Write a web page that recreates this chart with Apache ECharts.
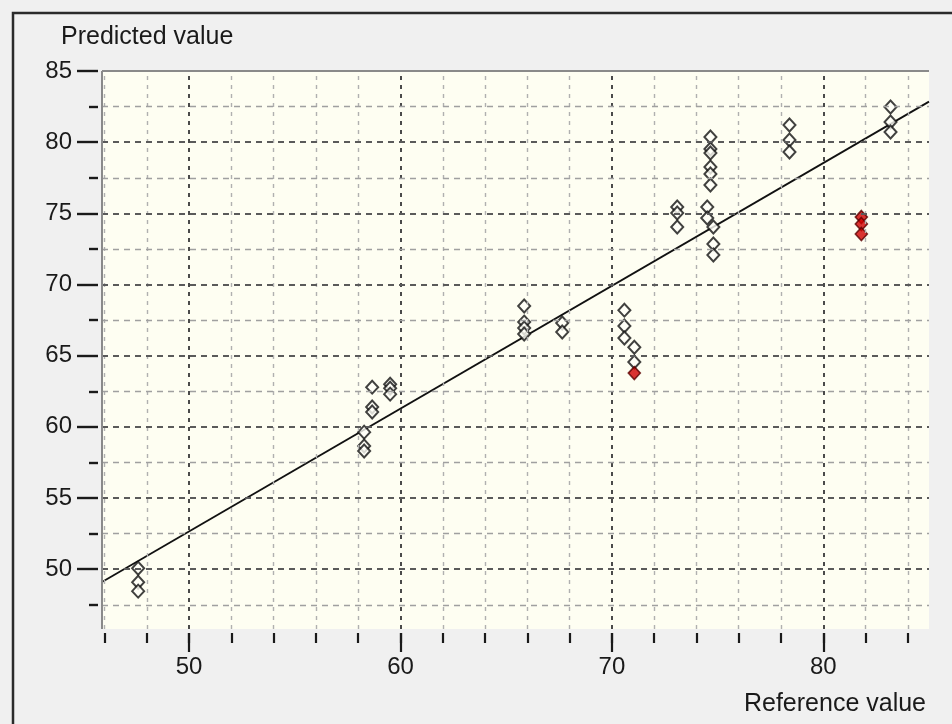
<!DOCTYPE html>
<html><head><meta charset="utf-8">
<script src="https://cdn.jsdelivr.net/npm/echarts@6/dist/echarts.min.js"></script>
<style>html,body{margin:0;padding:0;background:#f0f0f0}#c{width:952px;height:724px}</style>
</head><body><div id="c"></div>
<script>
// ---- data ----
const xMinorTicks = [46,48,50,52,54,56,58,60,62,64,66,68,70,72,74,76,78,80,82,84];
const xMajorTicks = [50,60,70,80];
const yMinorTicks = [47.5,52.5,57.5,62.5,67.5,72.5,77.5,82.5];
const yMajorTicks = [50,55,60,65,70,75,80,85];
const yGridLines = [47.5,50,52.5,55,57.5,60,62.5,65,67.5,70,72.5,75,77.5,80,82.5];

const openX = [47.59,47.59,47.59, 58.28,58.28,58.28, 58.66,58.66,58.66, 59.51,59.51,59.51,
  65.85,65.85,65.85,65.85, 67.65,67.65, 70.59,70.59,70.59, 71.06,71.06,
  73.09,73.09,73.09, 74.51,74.51, 74.66,74.66,74.66,74.66,74.66,74.66, 74.8,74.8,74.8,
  78.4,78.4,78.4, 83.18,83.18,83.18];
const openY = [50.07,49.09,48.46, 59.63,58.65,58.3, 62.79,61.39,61.04, 63.0,62.72,62.3,
  68.49,67.36,66.94,66.52, 67.29,66.66, 68.2,67.08,66.24, 65.6,64.55,
  75.44,75.02,74.04, 75.44,74.67, 80.36,79.52,79.24,78.25,77.76,76.99, 74.04,72.84,72.07,
  81.2,80.15,79.31, 82.47,81.42,80.71];
const redX = [71.06, 81.8,81.8,81.8];
const redY = [63.78, 74.74,74.25,73.55];
const fitX = [45.88, 85];
const fitY = [49.1, 82.85];

const xMin = 45.88, xMax = 85, yMin = 45.8, yMax = 85;

// ---- build ----
const zip = (a,b) => a.map((v,i)=>[v,b[i]]);
const FONT = '"Liberation Sans", Arial, sans-serif';
const gridLines = [];
xMinorTicks.forEach(v => gridLines.push({xAxis: v, lineStyle: {
  color: xMajorTicks.includes(v) ? '#4a4a4a' : '#b0b0b0', width: xMajorTicks.includes(v) ? 2 : 1.4, type: [4,5]}}));
yGridLines.forEach(v => gridLines.push({yAxis: v, lineStyle: {
  color: (v % 5 === 0) ? '#5a5a5a' : '#a0a0a0', width: (v % 5 === 0) ? 2 : 1.4, type: [6,5]}}));
// plot frame (top & left)
gridLines.push({yAxis: yMax, lineStyle: {color:'#8a8a8a', width:2, type:'solid'}});
gridLines.push({xAxis: xMin, lineStyle: {color:'#8a8a8a', width:2, type:'solid'}});

const xBase = {type:'value', min:xMin, max:xMax, position:'bottom', offset:4,
  axisLine:{show:false}, splitLine:{show:false}};
const yBase = {type:'value', min:yMin, max:yMax, position:'left', offset:4,
  axisLine:{show:false}, splitLine:{show:false}};

const option = {
  animation:false,
  backgroundColor:'#f0f0f0',
  grid:{left:102, top:71, right:23, bottom:95, show:true, backgroundColor:'#fefef2', borderWidth:0, outerBoundsMode:'none'},
  xAxis:[
    Object.assign({}, xBase, {
      axisTick:{show:true, customValues:xMajorTicks, length:19, lineStyle:{color:'#1a1a1a', width:2.2}},
      axisLabel:{show:true, customValues:xMajorTicks, margin:22, fontSize:24, color:'#1a1a1a', fontFamily:FONT}
    }),
    Object.assign({}, xBase, {
      axisTick:{show:true, customValues:xMinorTicks, length:10, lineStyle:{color:'#1a1a1a', width:2.2}},
      axisLabel:{show:false}
    })
  ],
  yAxis:[
    Object.assign({}, yBase, {
      axisTick:{show:true, customValues:yMajorTicks, length:21, lineStyle:{color:'#1a1a1a', width:2.4}},
      axisLabel:{show:true, customValues:yMajorTicks, margin:26, fontSize:24, color:'#1a1a1a', fontFamily:FONT}
    }),
    Object.assign({}, yBase, {
      axisTick:{show:true, customValues:yMinorTicks, length:9, lineStyle:{color:'#1a1a1a', width:2.4}},
      axisLabel:{show:false}
    })
  ],
  graphic:[
    {type:'polyline', shape:{points:[[13,724],[13,13],[952,13]]}, style:{stroke:'#2a2a2a', lineWidth:2.5, fill:null}, silent:true},
    {type:'text', x:61, y:37, style:{text:'Predicted value', font:'25px '+FONT, fill:'#1a1a1a', verticalAlign:'middle', align:'left'}},
    {type:'text', x:926, y:704, style:{text:'Reference value', font:'25px '+FONT, fill:'#1a1a1a', verticalAlign:'middle', align:'right'}}
  ],
  series:[
    {type:'line', data:zip(fitX,fitY), z:1, showSymbol:false, lineStyle:{opacity:0}, silent:true,
      markLine:{silent:true, symbol:'none', label:{show:false}, animation:false, data:gridLines}},
    {type:'line', data:zip(fitX,fitY), z:2, showSymbol:false, lineStyle:{color:'#111', width:1.8}},
    {type:'scatter', data:zip(openX,openY), z:3, symbol:'diamond', symbolSize:[12,13],
      itemStyle:{color:'#fffff8', borderColor:'#111', borderWidth:2}},
    {type:'scatter', data:zip(redX,redY), z:4, symbol:'diamond', symbolSize:[12,13],
      itemStyle:{color:'#d00000', borderColor:'#5a0000', borderWidth:1.6}}
  ]
};
echarts.init(document.getElementById('c')).setOption(option);
</script></body></html>
